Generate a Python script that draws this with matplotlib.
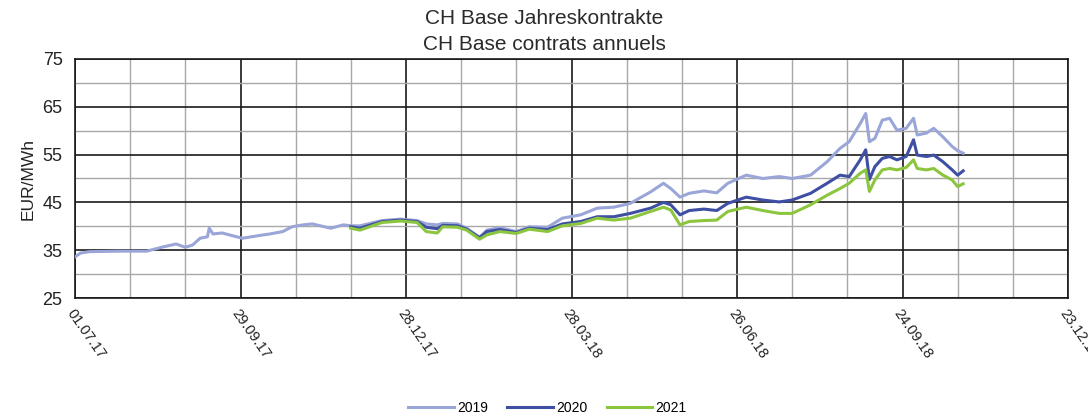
import datetime as dt
import numpy as np
import matplotlib
matplotlib.use("Agg")
import matplotlib.pyplot as plt

plt.rcParams['font.family'] = ['Liberation Sans', 'DejaVu Sans']

start = dt.date(2017, 7, 1)
# sample days (offset from 01.07.17)
day_offsets = [0, 3, 8, 24, 39, 41, 48, 55, 60, 64, 68, 72, 73, 75, 80, 86, 91, 99, 106, 113,
               118, 124, 129, 139, 146, 150, 155, 167, 177, 186, 191, 197, 200, 208, 213, 220,
               224, 231, 240, 247, 257, 265, 275, 284, 293, 302, 313, 320, 324, 329, 334, 342,
               349, 355, 365, 374, 383, 390, 400, 409, 416, 421, 427, 430, 432, 435, 439, 443,
               447, 452, 456, 458, 463, 467, 472, 477, 480, 483]
nan = np.nan
y2019 = [33.6, 34.4, 34.7, 34.8, 34.8, 35.0, 35.7, 36.3, 35.6, 36.1, 37.5, 37.8, 39.6, 38.4, 38.6,
         38.0, 37.5, 38.0, 38.4, 38.9, 39.9, 40.3, 40.5, 39.6, 40.3, 40.1, 40.1, 41.2, 41.5, 41.2,
         40.5, 40.3, 40.6, 40.5, 39.6, 37.7, 39.2, 39.7, 38.9, 39.9, 39.8, 41.7, 42.4, 43.8, 44.0,
         44.8, 47.2, 49.0, 47.9, 46.1, 46.9, 47.4, 47.0, 49.0, 50.7, 50.0, 50.4, 50.0, 50.7, 53.5,
         56.3, 57.7, 61.5, 63.6, 57.7, 58.4, 62.2, 62.6, 60.1, 60.5, 62.6, 59.1, 59.5, 60.5, 58.7,
         56.7, 55.8, 55.3]
y2020 = [nan] * 25 + [39.9, 39.6, 41.0, 41.3, 41.0, 39.8, 39.5, 40.2, 40.1, 39.4, 37.6, 38.9,
         39.3, 38.7, 39.6, 39.3, 40.5, 41.0, 42.0, 42.0, 42.7, 43.8, 45.0, 44.5, 42.4, 43.3, 43.6,
         43.3, 44.8, 46.1, 45.5, 45.1, 45.5, 46.9, 49.0, 50.7, 50.4, 53.9, 56.0, 49.8, 52.5, 54.2,
         54.6, 53.9, 54.6, 58.1, 54.9, 54.6, 54.9, 53.5, 51.8, 50.7, 51.6]
y2021 = [nan] * 25 + [39.6, 39.2, 40.8, 41.1, 40.8, 38.9, 38.6, 39.9, 39.8, 39.2, 37.3, 38.2,
         38.9, 38.5, 39.4, 38.9, 40.1, 40.6, 41.7, 41.3, 41.7, 43.1, 44.0, 43.4, 40.3, 41.0, 41.2,
         41.3, 43.1, 44.0, 43.3, 42.7, 42.7, 44.5, 46.5, 47.9, 49.0, 51.1, 51.8, 47.3, 49.7, 51.8,
         52.1, 51.8, 52.3, 53.9, 52.1, 51.8, 52.1, 50.7, 49.7, 48.3, 48.9]
series_names = ["2019", "2020", "2021"]
series_colors = ["#9aa5d8", "#3f4fa3", "#8cc63f"]
tick_labels = ["01.07.17", "29.09.17", "28.12.17", "28.03.18", "26.06.18", "24.09.18", "23.12.18"]

dates = [start + dt.timedelta(days=d) for d in day_offsets]
tick_dates = [dt.datetime.strptime(t, "%d.%m.%y").date() for t in tick_labels]

fig = plt.figure(figsize=(10.88, 4.19), dpi=100)
ax = fig.add_axes([75/1088, 1-298/419, (1068-75)/1088, (298-59)/419])

for vals, name, col in zip([y2019, y2020, y2021], series_names, series_colors):
    ax.plot(dates, vals, color=col, lw=2.2, label=name, zorder=3)

ax.set_xlim(tick_dates[0], tick_dates[-1])
ax.set_ylim(25, 75)
ax.set_xticks(tick_dates)
ax.set_xticklabels(tick_labels, rotation=-55, ha='left', va='top', rotation_mode='anchor',
                   fontsize=10.5, color='#222222')
minor_x = [tick_dates[0] + dt.timedelta(days=30*i) for i in range(1, 18) if i % 3 != 0]
ax.set_xticks(minor_x, minor=True)
ax.set_yticks([25, 35, 45, 55, 65, 75])
ax.set_yticks([30, 40, 50, 60, 70], minor=True)
ax.tick_params(axis='both', which='both', length=0)
ax.tick_params(axis='y', labelsize=13, pad=9, labelcolor='#222222')
ax.tick_params(axis='x', pad=6)
ax.grid(which='major', color='#1a1a1a', lw=1.2, zorder=1)
ax.grid(which='minor', color='#a8a8a8', lw=1.0, zorder=1)
for s in ax.spines.values():
    s.set_color('#1a1a1a')
    s.set_linewidth(1.2)
ax.set_ylabel("EUR/MWh", fontsize=12.5, labelpad=5, color='#222222')

fig.text(0.5, 1-18/419, "CH Base Jahreskontrakte", ha='center', va='center', fontsize=15, color='#2a2a2a')
fig.text(0.5, 1-45/419, "CH Base contrats annuels", ha='center', va='center', fontsize=15, color='#2a2a2a')

fig.legend(loc='center', bbox_to_anchor=(0.503, 1-408/419), ncol=3, frameon=False, fontsize=10,
           handlelength=3.3, columnspacing=1.4, handletextpad=0.2)

fig.savefig("out.png", dpi=100)
